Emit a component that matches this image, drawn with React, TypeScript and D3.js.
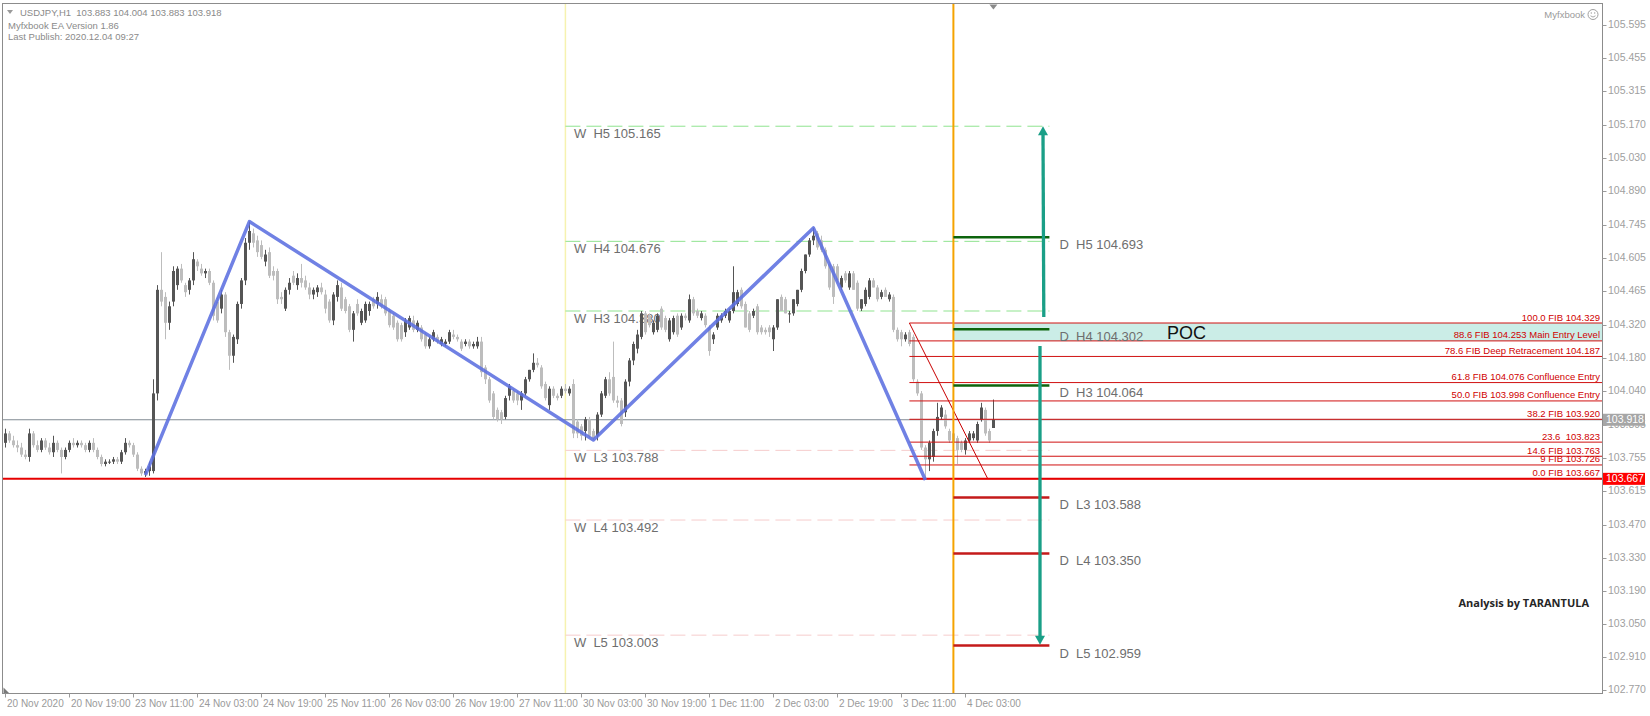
import React from 'react';
import * as d3 from 'd3';

const W = 1650;
const H = 716;

// ---------- data ----------
const timeLabels = [
  '20 Nov 2020', '20 Nov 19:00', '23 Nov 11:00', '24 Nov 03:00', '24 Nov 19:00', '25 Nov 11:00',
  '26 Nov 03:00', '26 Nov 19:00', '27 Nov 11:00', '30 Nov 03:00', '30 Nov 19:00', '1 Dec 11:00',
  '2 Dec 03:00', '2 Dec 19:00', '3 Dec 11:00', '4 Dec 03:00',
];
const BARS_PER_LABEL = 16;

const priceTicks = [
  '105.595', '105.455', '105.315', '105.170', '105.030', '104.890', '104.745', '104.605', '104.465',
  '104.320', '104.180', '104.040', '103.895', '103.755', '103.615', '103.470', '103.330', '103.190',
  '103.050', '102.910', '102.770',
];

// [open, high, low, close] per H1 bar
const candles: [number, number, number, number][] = [
  [103.82,103.88,103.80,103.86],[103.86,103.87,103.82,103.83],[103.83,103.85,103.80,103.81],[103.81,103.83,103.78,103.80],
  [103.80,103.82,103.76,103.77],[103.77,103.79,103.75,103.76],[103.76,103.88,103.74,103.86],[103.86,103.87,103.80,103.81],
  [103.81,103.83,103.78,103.79],[103.79,103.84,103.78,103.83],[103.83,103.84,103.79,103.80],[103.80,103.82,103.77,103.78],
  [103.78,103.85,103.76,103.82],[103.82,103.83,103.78,103.79],[103.79,103.80,103.69,103.76],[103.76,103.80,103.75,103.79],
  [103.79,103.83,103.78,103.82],[103.82,103.84,103.80,103.81],[103.81,103.83,103.80,103.82],[103.82,103.83,103.80,103.81],
  [103.81,103.82,103.78,103.79],[103.79,103.83,103.78,103.82],[103.82,103.84,103.78,103.79],[103.79,103.80,103.75,103.76],
  [103.76,103.77,103.72,103.73],[103.73,103.75,103.72,103.74],[103.74,103.75,103.73,103.74],[103.74,103.76,103.73,103.75],
  [103.75,103.76,103.73,103.74],[103.74,103.79,103.73,103.78],[103.78,103.84,103.77,103.82],[103.82,103.83,103.80,103.81],
  [103.81,103.82,103.76,103.77],[103.77,103.78,103.70,103.71],[103.71,103.72,103.68,103.69],[103.69,103.71,103.675,103.70],
  [103.70,103.74,103.68,103.72],[103.70,104.09,103.69,104.03],[104.03,104.49,104.00,104.47],[104.47,104.63,104.40,104.42],
  [104.44,104.46,104.26,104.33],[104.33,104.42,104.30,104.40],[104.42,104.57,104.40,104.55],[104.49,104.57,104.47,104.56],
  [104.56,104.58,104.50,104.51],[104.49,104.50,104.44,104.46],[104.47,104.52,104.45,104.51],[104.51,104.63,104.49,104.60],
  [104.59,104.60,104.55,104.57],[104.56,104.58,104.53,104.54],[104.54,104.56,104.52,104.55],[104.55,104.56,104.49,104.50],
  [104.50,104.51,104.34,104.36],[104.42,104.44,104.33,104.34],[104.39,104.47,104.37,104.45],[104.45,104.46,104.27,104.29],
  [104.29,104.30,104.13,104.19],[104.19,104.28,104.16,104.27],[104.26,104.42,104.24,104.41],[104.41,104.52,104.39,104.51],
  [104.51,104.69,104.49,104.67],[104.67,104.76,104.64,104.72],[104.71,104.73,104.65,104.67],[104.68,104.70,104.61,104.63],
  [104.66,104.68,104.60,104.61],[104.59,104.64,104.57,104.62],[104.63,104.65,104.52,104.53],[104.55,104.57,104.51,104.53],
  [104.55,104.56,104.41,104.43],[104.44,104.46,104.41,104.43],[104.39,104.48,104.38,104.47],[104.47,104.52,104.45,104.50],
  [104.53,104.55,104.49,104.50],[104.49,104.54,104.47,104.52],[104.52,104.58,104.48,104.50],[104.51,104.53,104.47,104.48],
  [104.48,104.50,104.43,104.45],[104.45,104.48,104.43,104.47],[104.46,104.49,104.44,104.48],[104.48,104.50,104.45,104.46],
  [104.45,104.47,104.37,104.39],[104.42,104.43,104.33,104.34],[104.34,104.46,104.32,104.45],[104.44,104.51,104.42,104.49],
  [104.48,104.50,104.38,104.39],[104.43,104.44,104.37,104.38],[104.40,104.41,104.29,104.30],[104.30,104.38,104.25,104.37],
  [104.41,104.43,104.36,104.37],[104.33,104.39,104.32,104.38],[104.34,104.42,104.33,104.41],[104.38,104.42,104.36,104.41],
  [104.43,104.44,104.39,104.40],[104.41,104.46,104.39,104.44],[104.43,104.45,104.39,104.40],[104.43,104.44,104.36,104.37],
  [104.38,104.39,104.31,104.32],[104.36,104.37,104.30,104.31],[104.33,104.34,104.25,104.26],[104.32,104.33,104.25,104.26],
  [104.29,104.35,104.27,104.34],[104.31,104.36,104.30,104.35],[104.34,104.36,104.29,104.30],[104.30,104.34,104.29,104.33],
  [104.31,104.32,104.25,104.26],[104.28,104.29,104.22,104.23],[104.23,104.27,104.22,104.26],[104.26,104.30,104.25,104.29],
  [104.27,104.28,104.24,104.25],[104.24,104.27,104.23,104.26],[104.24,104.26,104.23,104.25],[104.25,104.30,104.24,104.29],
  [104.28,104.30,104.26,104.27],[104.27,104.28,104.25,104.26],[104.25,104.26,104.21,104.22],[104.24,104.26,104.23,104.25],
  [104.25,104.26,104.22,104.23],[104.23,104.25,104.22,104.24],[104.23,104.27,104.22,104.25],[104.25,104.27,104.10,104.12],
  [104.14,104.15,104.07,104.09],[104.09,104.10,103.99,104.00],[104.03,104.04,103.92,103.93],[103.96,103.97,103.91,103.92],
  [103.95,103.96,103.90,103.92],[103.93,104.02,103.92,104.01],[104.02,104.07,104.00,104.06],[104.04,104.05,103.99,104.00],
  [104.03,104.04,103.98,104.00],[104.00,104.04,103.96,104.03],[104.03,104.10,104.02,104.09],[104.09,104.13,104.08,104.13],
  [104.13,104.20,104.12,104.16],[104.16,104.18,104.14,104.15],[104.14,104.15,104.05,104.06],[104.07,104.08,104.00,104.01],
  [103.98,104.06,103.96,104.05],[104.05,104.06,104.01,104.02],[104.02,104.03,104.00,104.01],[104.02,104.06,104.01,104.05],
  [104.05,104.07,104.03,104.04],[104.03,104.06,104.02,104.05],[104.07,104.09,103.84,103.86],[103.91,103.92,103.84,103.86],
  [103.89,103.90,103.83,103.85],[103.87,103.93,103.83,103.92],[103.92,103.93,103.84,103.85],[103.87,103.88,103.832,103.84],
  [103.85,103.95,103.83,103.94],[103.94,104.04,103.93,104.03],[104.02,104.10,104.01,104.09],[104.09,104.12,104.02,104.03],
  [104.10,104.25,103.99,104.00],[104.00,104.02,103.97,103.99],[104.00,104.01,103.89,103.90],[103.95,104.09,103.93,104.08],
  [104.08,104.18,104.06,104.17],[104.17,104.25,104.15,104.24],[104.22,104.30,104.20,104.28],[104.27,104.38,104.26,104.37],
  [104.37,104.38,104.28,104.29],[104.36,104.37,104.31,104.32],[104.29,104.34,104.28,104.33],[104.30,104.37,104.29,104.36],
  [104.39,104.40,104.30,104.31],[104.35,104.36,104.29,104.30],[104.26,104.35,104.25,104.34],[104.29,104.36,104.28,104.35],
  [104.36,104.37,104.27,104.28],[104.31,104.37,104.30,104.36],[104.36,104.37,104.34,104.35],[104.34,104.45,104.33,104.43],
  [104.43,104.44,104.36,104.37],[104.38,104.39,104.35,104.36],[104.35,104.38,104.34,104.37],[104.36,104.37,104.31,104.32],
  [104.31,104.32,104.19,104.21],[104.26,104.29,104.24,104.28],[104.31,104.37,104.30,104.36],[104.34,104.37,104.33,104.36],
  [104.36,104.39,104.35,104.38],[104.34,104.39,104.33,104.38],[104.38,104.57,104.37,104.46],[104.41,104.47,104.40,104.46],
  [104.47,104.48,104.39,104.40],[104.41,104.42,104.31,104.31],[104.37,104.38,104.29,104.30],[104.36,104.39,104.35,104.38],
  [104.40,104.41,104.28,104.29],[104.31,104.32,104.28,104.29],[104.30,104.31,104.28,104.29],[104.31,104.32,104.27,104.29],
  [104.26,104.32,104.21,104.31],[104.31,104.43,104.30,104.43],[104.44,104.45,104.38,104.38],[104.43,104.44,104.37,104.37],
  [104.37,104.38,104.33,104.37],[104.37,104.43,104.36,104.43],[104.41,104.47,104.40,104.47],[104.47,104.56,104.46,104.55],
  [104.55,104.62,104.54,104.62],[104.62,104.69,104.61,104.68],[104.68,104.733,104.66,104.70],[104.71,104.72,104.64,104.65],
  [104.68,104.70,104.63,104.64],[104.64,104.65,104.56,104.57],[104.58,104.59,104.47,104.48],[104.57,104.58,104.41,104.44],
  [104.57,104.58,104.50,104.51],[104.48,104.53,104.47,104.52],[104.54,104.55,104.50,104.51],[104.48,104.55,104.47,104.54],
  [104.54,104.55,104.47,104.47],[104.50,104.51,104.38,104.39],[104.39,104.43,104.38,104.43],[104.41,104.48,104.40,104.47],
  [104.44,104.52,104.43,104.51],[104.51,104.52,104.48,104.48],[104.48,104.49,104.42,104.43],[104.44,104.47,104.43,104.46],
  [104.47,104.48,104.44,104.44],[104.43,104.46,104.42,104.45],[104.44,104.45,104.29,104.30],[104.30,104.31,104.25,104.26],
  [104.29,104.30,104.23,104.26],[104.26,104.29,104.25,104.28],[104.29,104.30,104.23,104.24],[104.27,104.28,104.08,104.09],
  [104.08,104.09,104.02,104.03],[104.03,104.04,103.79,103.80],[103.80,103.81,103.662,103.75],[103.75,103.83,103.70,103.82],
  [103.76,103.88,103.74,103.87],[103.87,103.99,103.85,103.93],[103.93,103.98,103.92,103.97],[103.94,103.96,103.88,103.89],
  [103.87,103.88,103.82,103.83],[103.86,103.87,103.78,103.82],[103.84,103.85,103.73,103.79],[103.82,103.83,103.78,103.79],
  [103.79,103.84,103.77,103.83],[103.83,103.87,103.82,103.86],[103.84,103.87,103.83,103.86],[103.83,103.91,103.82,103.90],
  [103.92,103.99,103.91,103.97],[103.96,103.97,103.85,103.86],[103.87,103.88,103.82,103.83],[103.883,104.004,103.883,103.918],
];

const zigzag = [
  { bar: 35, price: 103.683 },
  { bar: 61, price: 104.760 },
  { bar: 147, price: 103.832 },
  { bar: 202, price: 104.733 },
  { bar: 230, price: 103.662 },
];

const weeklyLevels = [
  { name: 'H5', value: 105.165, up: true },
  { name: 'H4', value: 104.676, up: true },
  { name: 'H3', value: 104.380, up: true },
  { name: 'L3', value: 103.788, up: false },
  { name: 'L4', value: 103.492, up: false },
  { name: 'L5', value: 103.003, up: false },
];
const WEEK_START_BAR = 140;
const LEVEL_END_BAR = 261;

const dailyLevels = [
  { name: 'H5', value: 104.693, up: true },
  { name: 'H4', value: 104.302, up: true },
  { name: 'H3', value: 104.064, up: true },
  { name: 'L3', value: 103.588, up: false },
  { name: 'L4', value: 103.350, up: false },
  { name: 'L5', value: 102.959, up: false },
];
const DAY_START_BAR = 237;

const fibLevels = [
  { label: '100.0 FIB 104.329', value: 104.329 },
  { label: '88.6 FIB 104.253 Main Entry Level', value: 104.253 },
  { label: '78.6 FIB Deep Retracement 104.187', value: 104.187 },
  { label: '61.8 FIB 104.076 Confluence Entry', value: 104.076 },
  { label: '50.0 FIB 103.998 Confluence Entry', value: 103.998 },
  { label: '38.2 FIB 103.920', value: 103.920 },
  { label: '23.6  103.823', value: 103.823 },
  { label: '14.6 FIB 103.763', value: 103.763 },
  { label: '9 FIB 103.726', value: 103.726 },
  { label: '0.0 FIB 103.667', value: 103.667 },
];
const FIB_START_BAR = 226;
const FIB_END_BAR = 245.6;

const arrows = [
  { x1: 259.6, p1: 104.355, x2: 259.4, p2: 105.165 },
  { x1: 258.65, p1: 104.231, x2: 258.65, p2: 102.962 },
];

const BID = 103.918;
const SUPPORT = 103.667;
const TITLE = 'USDJPY,H1  103.883 104.004 103.883 103.918';

// ---------- layout ----------
const PL = 2.5, PT = 3.5, PR = 1602.5, PB = 693.5;
const NARROW = "'Liberation Sans Narrow', 'Arial Narrow', sans-serif";
const REG = "'Liberation Sans', Arial, sans-serif";

export default function App() {
  const x = d3.scaleLinear().domain([0, 240]).range([5.4, 965.4]);
  const y = d3.scaleLinear().domain([102.77, 105.595]).range([690, 25]);
  const zz = d3.line<{ bar: number; price: number }>().x(d => x(d.bar)).y(d => y(d.price));

  const bull = '#555555';
  const bear = '#bdbdbd';

  const arrowHead = (xa: number, ya: number, dir: number) => {
    const w = 5, h = 9;
    return `M${xa},${ya} L${xa - w},${ya + dir * h} L${xa + w},${ya + dir * h} Z`;
  };

  return (
    <svg width={W} height={H} style={{ position: 'absolute', left: 0, top: 0, background: '#fff' }}>
      <rect x={0} y={0} width={W} height={H} fill="#fff" />
      <defs>
        <clipPath id="plot"><rect x={PL} y={PT} width={PR - PL} height={PB - PT} /></clipPath>
      </defs>

      <g clipPath="url(#plot)">
        {/* POC zone */}
        <rect x={x(DAY_START_BAR)} y={y(fibLevels[0].value)} width={PR - x(DAY_START_BAR)}
          height={y(fibLevels[1].value) - y(fibLevels[0].value)} fill="#cbede7" />

        {/* vertical separators */}
        <line x1={x(WEEK_START_BAR)} x2={x(WEEK_START_BAR)} y1={PT} y2={PB} stroke="#f6f2b0" strokeWidth={1.5} />

        {/* weekly pivots */}
        {weeklyLevels.map(l => (
          <g key={'w' + l.name}>
            <line x1={x(WEEK_START_BAR)} x2={x(LEVEL_END_BAR)} y1={y(l.value)} y2={y(l.value)}
              stroke={l.up ? '#8fe38f' : '#f6cccc'} strokeWidth={1} strokeDasharray="15,6" />
            <text x={x(WEEK_START_BAR) + 8.5} y={y(l.value) + 12} fontFamily={NARROW} fontSize={13}
              fill="#6e6e6e" style={{ whiteSpace: 'pre' }}>{`W  ${l.name} ${l.value.toFixed(3)}`}</text>
          </g>
        ))}

        {/* bid line */}
        <line x1={PL} x2={PR} y1={y(BID)} y2={y(BID)} stroke="#808a92" strokeWidth={1} />

        {/* candles */}
        {candles.map(([o, h, l, c], i) => {
          const cx = Math.round(x(i));
          const col = c >= o ? bull : bear;
          const top = y(Math.max(o, c));
          const bh = Math.max(1, y(Math.min(o, c)) - top);
          return (
            <g key={i}>
              <line x1={cx + 0.5} x2={cx + 0.5} y1={y(h)} y2={y(l)} stroke={col} strokeWidth={1} />
              <rect x={cx - 1} y={top} width={3} height={bh} fill={col} />
            </g>
          );
        })}

        {/* fib lines */}
        {fibLevels.map(f => (
          <line key={f.label} x1={x(FIB_START_BAR)} x2={PR} y1={y(f.value)} y2={y(f.value)}
            stroke="#d01010" strokeWidth={1} />
        ))}
        <line x1={x(FIB_START_BAR)} y1={y(fibLevels[0].value)} x2={x(FIB_END_BAR)} y2={y(SUPPORT)}
          stroke="#c80000" strokeWidth={1} />

        {/* support line */}
        <line x1={PL} x2={PR} y1={y(SUPPORT)} y2={y(SUPPORT)} stroke="#e60000" strokeWidth={2} />

        {/* day separator */}
        <line x1={x(DAY_START_BAR)} x2={x(DAY_START_BAR)} y1={PT} y2={PB} stroke="#f5a300" strokeWidth={2} />

        {/* daily pivots */}
        {dailyLevels.map(l => (
          <g key={'d' + l.name}>
            <line x1={x(DAY_START_BAR)} x2={x(LEVEL_END_BAR)} y1={y(l.value)} y2={y(l.value)}
              stroke={l.up ? '#0d640d' : '#c41a1a'} strokeWidth={2.5} />
            <text x={x(LEVEL_END_BAR) + 10} y={y(l.value) + 12} fontFamily={NARROW} fontSize={13}
              fill="#6e6e6e" style={{ whiteSpace: 'pre' }}>{`D  ${l.name} ${l.value.toFixed(3)}`}</text>
          </g>
        ))}

        {/* fib labels */}
        {fibLevels.map(f => (
          <text key={'t' + f.label} x={1600} y={y(f.value) - 2.5} textAnchor="end" fontFamily={REG}
            fontSize={9.5} fill="#d00000" style={{ whiteSpace: 'pre' }}>{f.label}</text>
        ))}

        {/* zigzag */}
        <path d={zz(zigzag) || ''} fill="none" stroke="#5c70e0" strokeOpacity={0.88} strokeWidth={3.5}
          strokeLinejoin="round" />

        {/* arrows */}
        {arrows.map((a, i) => {
          const dir = a.p2 > a.p1 ? 1 : -1;
          const xa = x(a.x2), ya = y(a.p2);
          return (
            <g key={'a' + i}>
              <line x1={x(a.x1)} y1={y(a.p1)} x2={xa} y2={ya + dir * 6} stroke="#1a9f87" strokeWidth={3.3} />
              <path d={arrowHead(xa, ya, dir)} fill="#1a9f87" />
            </g>
          );
        })}

        <text x={1167} y={339} fontFamily={REG} fontSize={18} fill="#111">POC</text>

        <text x={1589} y={607} textAnchor="end" fontFamily="'Open Sans', sans-serif" fontWeight={700}
          fontSize={11} fill="#262626">Analysis by TARANTULA</text>

        {/* header */}
        <path d="M7,10 L13,10 L10,14 Z" fill="#9a9a9a" />
        <text x={20} y={16} fontFamily={REG} fontSize={9.5} fill="#8a8a8a" style={{ whiteSpace: 'pre' }}>{TITLE}</text>
        <text x={8} y={29} fontFamily={REG} fontSize={9.5} fill="#8a8a8a">Myfxbook EA Version 1.86</text>
        <text x={8} y={40} fontFamily={REG} fontSize={9.5} fill="#8a8a8a">Last Publish: 2020.12.04 09:27</text>

        <text x={1585} y={18} textAnchor="end" fontFamily={REG} fontSize={9.5} fill="#9a9a9a">Myfxbook</text>
        <circle cx={1593} cy={14.5} r={5} fill="none" stroke="#a0a0a0" strokeWidth={1} />
        <circle cx={1591.3} cy={13} r={0.7} fill="#a0a0a0" />
        <circle cx={1594.7} cy={13} r={0.7} fill="#a0a0a0" />
        <path d="M1590.5,15.8 Q1593,18.3 1595.5,15.8" fill="none" stroke="#a0a0a0" strokeWidth={0.9} />

        <path d={`M${x(247) - 4},${PT + 1} L${x(247) + 4},${PT + 1} L${x(247)},${PT + 6} Z`} fill="#8a8a8a" />
        <path d={`M${PL + 1},${PB - 6} L${PL + 1},${PB} L${PL + 7},${PB} Z`} fill="#7a7a7a" />
      </g>

      {/* frame */}
      <rect x={PL} y={PT} width={PR - PL} height={PB - PT} fill="none" stroke="#8c8c8c" strokeWidth={1} />

      {/* price axis */}
      {priceTicks.map(t => (
        <g key={t}>
          <line x1={PR} x2={PR + 4} y1={Math.round(y(+t)) + 0.5} y2={Math.round(y(+t)) + 0.5} stroke="#9a9a9a" />
          <text x={1608} y={y(+t)} dominantBaseline="middle" fontFamily={NARROW} fontSize={10.5} fill="#a0a0a0">{t}</text>
        </g>
      ))}
      <rect x={1603} y={y(BID) - 6} width={42} height={12} fill="#a6a6a6" />
      <text x={1606} y={y(BID) + 0.5} dominantBaseline="middle" fontFamily={NARROW} fontSize={10.5} fill="#fff">{BID.toFixed(3)}</text>
      <rect x={1603} y={y(SUPPORT) - 6} width={42} height={12} fill="#ff0000" />
      <text x={1606} y={y(SUPPORT) + 0.5} dominantBaseline="middle" fontFamily={NARROW} fontSize={10.5} fill="#fff">{SUPPORT.toFixed(3)}</text>

      {/* time axis */}
      {timeLabels.map((t, k) => {
        const tx = Math.round(x(k * BARS_PER_LABEL)) + 0.5;
        return (
          <g key={t}>
            <line x1={tx} x2={tx} y1={PB} y2={PB + 4} stroke="#9a9a9a" />
            <text x={tx + 1.5} y={706.5} fontFamily={NARROW} fontSize={10} fill="#9a9a9a">{t}</text>
          </g>
        );
      })}
    </svg>
  );
}
